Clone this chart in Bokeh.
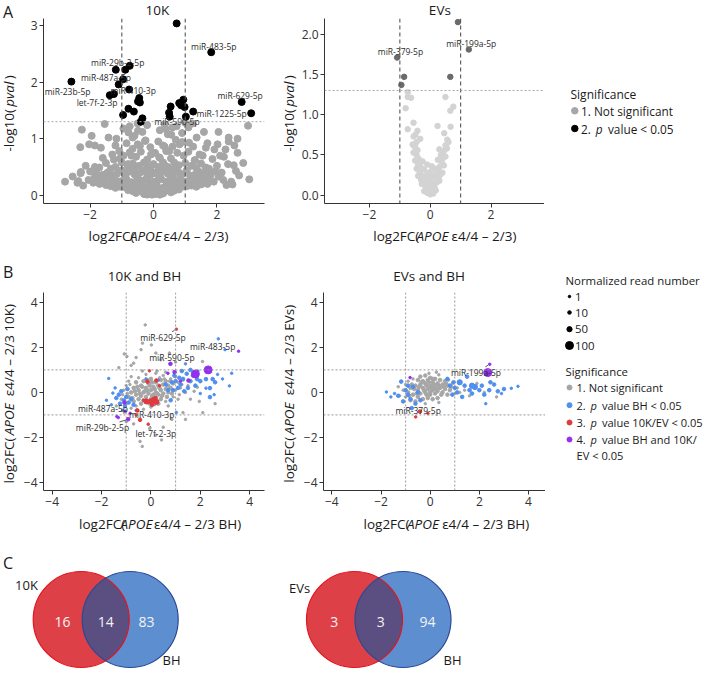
import numpy as np
from bokeh.plotting import figure
from bokeh.models import Range1d, ColumnDataSource, FixedTicker, Span
from bokeh.layouts import column, row
from bokeh.embed import file_html
from bokeh.resources import INLINE
from bokeh.core.properties import value

FONT = "Open Sans"

# ======================= DATA =======================
# ---- Panel A, 10K volcano: log2FC (x) and -log10(pval) (y)
tenk_sig_x = [0.73, 1.82, -2.59, -1.19, -0.89, -0.75, -0.96, -1.10, -0.77, -1.38, -1.25, -0.45, -0.49, -0.43, -0.79,
              -0.62, -0.96, -0.35, -0.40, 0.54, 0.49, 0.51, 0.81, 0.87, 0.94, 0.98, 1.02, 1.25, 2.78, 3.08]
tenk_sig_y = [3.04, 2.53, 2.01, 2.22, 2.22, 2.29, 2.05, 1.96, 1.87, 1.77, 1.79, 1.72, 1.66, 1.64, 1.53,
              1.48, 1.42, 1.36, 1.30, 1.57, 1.46, 1.39, 1.63, 1.59, 1.69, 1.56, 1.39, 1.48, 1.65, 1.45]
tenk_ns = [
    (-2.26, 1.16), (-1.54, 1.26), (-2.31, 0.85), (-2.03, 0.90), (-1.66, 0.84), (-1.42, 1.02), (-1.17, 1.00),
    (-2.79, 0.24), (-2.37, 0.25), (-2.22, 0.17), (-2.14, 0.52), (-2.29, 0.41), (-1.86, 0.31), (-1.71, 0.49),
    (-1.61, 0.28), (-1.25, 0.63), (-1.08, 0.78), (-1.06, 0.65), (-0.79, 1.11), (-0.66, 1.02), (-0.49, 1.14),
    (-0.27, 0.96), (-0.66, 0.82), (-0.43, 0.87), (-0.70, 0.70), (-0.81, 0.52),
    (1.23, 1.27), (1.00, 1.28), (1.59, 1.12), (1.36, 1.02), (1.12, 0.93), (1.65, 0.84), (1.92, 0.81),
    (2.02, 0.90), (2.37, 1.02), (2.37, 0.95), (2.27, 0.81), (2.22, 0.68), (2.53, 0.53), (2.83, 0.57),
    (2.98, 1.23), (3.02, 0.28), (2.49, 0.19), (2.30, 0.18), (2.60, 0.43), (1.86, 0.64), (1.45, 0.72),
    (1.30, 0.62), (1.65, 0.49), (2.00, 0.52), (2.05, 0.33),
    (0.39, 1.17), (0.56, 1.07), (0.73, 1.22), (0.35, 0.86), (0.82, 0.90), (0.50, 0.78), (0.18, 0.67),
    (-0.08, 0.72), (-0.13, 0.49),
    (-0.05, 0.01), (0.05, 0.02), (-0.15, 0.03), (0.15, 0.04), (-0.25, 0.05), (0.25, 0.05), (0.00, 0.06),
    (-0.35, 0.07), (0.35, 0.07), (-0.45, 0.08), (0.45, 0.09), (0.10, 0.09), (-0.10, 0.08),
    (-0.55, 0.04), (0.55, 0.05), (-0.65, 0.07), (0.65, 0.08), (-0.30, 0.02), (0.30, 0.03), (-0.80, 0.09),
    (0.80, 0.10), (0.20, 0.01), (-0.20, 0.01),
    (-0.60, 0.10), (0.60, 0.11), (-0.75, 0.12), (0.75, 0.13), (-0.90, 0.14), (0.90, 0.15), (-1.05, 0.15),
    (1.05, 0.16), (-1.20, 0.13), (1.20, 0.17), (-1.35, 0.16), (1.35, 0.15), (-0.30, 0.15), (0.30, 0.13),
    (-0.50, 0.17), (0.50, 0.18), (0.00, 0.15), (-1.50, 0.18), (1.50, 0.19), (-1.70, 0.20), (1.70, 0.20),
    (-0.20, 0.12), (0.20, 0.11), (-1.10, 0.19), (1.10, 0.20), (-0.95, 0.18), (0.95, 0.19), (-0.40, 0.11),
    (0.40, 0.12), (-0.65, 0.15), (0.65, 0.16), (-0.10, 0.17), (0.10, 0.18), (1.30, 0.20), (-1.30, 0.21),
    (-1.90, 0.22), (1.90, 0.24), (-0.10, 0.22), (0.10, 0.25), (-0.40, 0.26), (0.40, 0.24), (-0.70, 0.23),
    (0.70, 0.27), (-1.00, 0.25), (1.00, 0.24), (-1.30, 0.27), (1.30, 0.28), (-1.55, 0.29), (1.60, 0.27),
    (2.20, 0.27), (-2.05, 0.27), (0.85, 0.20), (-0.85, 0.21), (-2.40, 0.22), (2.45, 0.24),
    (-0.25, 0.27), (0.25, 0.28), (-0.55, 0.24), (0.55, 0.25), (-0.85, 0.28), (0.85, 0.29), (-1.15, 0.25),
    (1.15, 0.26), (1.45, 0.30), (-1.45, 0.30), (1.75, 0.29), (-1.75, 0.28), (0.00, 0.24),
    (-0.20, 0.32), (0.20, 0.34), (-0.55, 0.35), (0.55, 0.33), (-0.90, 0.36), (0.90, 0.37), (-1.15, 0.38),
    (1.15, 0.35), (-1.45, 0.40), (1.45, 0.41), (-1.80, 0.38), (1.80, 0.36), (0.00, 0.40), (-0.35, 0.42),
    (0.35, 0.44), (-0.70, 0.43), (0.70, 0.42), (1.05, 0.44), (-1.00, 0.44), (2.15, 0.40), (-2.00, 0.42),
    (2.70, 0.35), (-2.55, 0.33), (-0.10, 0.36), (0.10, 0.38), (-0.45, 0.39), (0.45, 0.38), (-0.80, 0.41),
    (0.80, 0.40), (-1.30, 0.35), (1.30, 0.36), (-1.60, 0.36), (1.60, 0.38), (0.25, 0.42), (-0.25, 0.44),
    (0.60, 0.36), (-0.60, 0.37), (1.95, 0.42), (-2.30, 0.39),
    (-0.10, 0.48), (0.15, 0.50), (-0.45, 0.52), (0.45, 0.50), (-0.80, 0.55), (0.80, 0.53), (-1.20, 0.50),
    (1.20, 0.52), (-1.50, 0.57), (1.50, 0.56), (0.30, 0.58), (-0.30, 0.58), (1.75, 0.47), (-1.85, 0.50),
    (2.35, 0.55), (0.60, 0.46), (-0.60, 0.47), (0.00, 0.55), (-0.20, 0.52), (0.35, 0.53), (-0.65, 0.56),
    (0.65, 0.58), (1.00, 0.57), (-1.00, 0.58), (1.35, 0.48), (-1.35, 0.47),
    (-0.20, 0.63), (0.20, 0.66), (-0.55, 0.68), (0.55, 0.65), (-0.95, 0.70), (0.95, 0.70), (1.30, 0.62),
    (-1.30, 0.72), (0.05, 0.75), (-0.40, 0.77), (0.40, 0.78), (0.75, 0.75), (-0.75, 0.76), (1.10, 0.77),
    (1.55, 0.70), (2.10, 0.70), (-1.60, 0.66), (2.65, 0.75),
    (-0.10, 0.85), (0.30, 0.88), (-0.50, 0.90), (0.60, 0.86), (-0.85, 0.92), (0.90, 0.94), (1.25, 0.86),
    (-1.20, 0.88), (0.15, 0.95), (-0.25, 0.97), (1.70, 0.92), (-1.85, 0.88), (2.55, 0.88), (0.70, 0.98),
    (-0.60, 1.05), (0.45, 1.08), (-0.35, 1.12), (0.20, 1.15), (0.90, 1.10), (-0.95, 1.18), (0.60, 1.20),
    (-0.20, 1.24), (1.10, 1.20), (-0.75, 1.22), (0.35, 1.25), (-0.50, 1.27), (2.05, 1.12), (-1.95, 1.05),
    (2.65, 1.00),
]
tenk_lab = ["miR-483-5p", "miR-29b-2-5p", "miR-487a-5p", "miR-23b-5p", "miR-410-3p",
            "let-7f-2-3p", "miR-629-5p", "miR-1225-5p", "miR-590-5p"]
tenk_lab_x = [1.90, -1.13, -1.50, -2.71, -0.64, -1.78, 2.73, 2.15, 0.74]
tenk_lab_y = [2.64, 2.34, 2.08, 1.84, 1.85, 1.64, 1.77, 1.45, 1.30]

# ---- Panel A, EVs volcano
ev_sig_x = [0.91, 1.27, -1.09, -0.86, -0.95, 0.66]
ev_sig_y = [2.15, 1.81, 1.71, 1.47, 1.37, 1.47]
ev_ns = [
    (-0.74, 1.28), (-0.74, 1.22), (-0.63, 1.21), (-0.81, 1.08), (0.50, 1.22), (0.76, 1.10), (0.66, 1.05),
    (0.67, 0.85), (0.24, 0.86), (-0.55, 0.90), (-0.74, 0.82), (-0.42, 0.80), (-0.49, 0.75), (-0.33, 0.70),
    (-0.55, 0.73), (-0.53, 0.61), (0.46, 0.77), (0.56, 0.69), (0.52, 0.61),
    (-0.20, 0.05), (-0.10, 0.03), (0.00, 0.01), (0.10, 0.02), (0.18, 0.06), (-0.05, 0.08), (0.06, 0.09),
    (-0.15, 0.10), (0.14, 0.10),
    (-0.28, 0.14), (-0.18, 0.15), (-0.08, 0.13), (0.02, 0.15), (0.12, 0.14), (0.22, 0.16), (0.30, 0.18),
    (-0.30, 0.19), (0.00, 0.20), (-0.12, 0.19), (0.20, 0.20),
    (-0.40, 0.24), (-0.30, 0.25), (-0.20, 0.22), (-0.10, 0.26), (0.10, 0.24), (0.20, 0.27), (0.32, 0.25),
    (0.40, 0.28), (-0.35, 0.29), (0.00, 0.29), (0.28, 0.30),
    (-0.45, 0.33), (-0.32, 0.35), (-0.20, 0.32), (0.15, 0.33), (0.30, 0.35), (0.45, 0.37), (-0.40, 0.38),
    (0.38, 0.40), (0.05, 0.36), (-0.10, 0.38),
    (-0.50, 0.43), (-0.38, 0.45), (-0.25, 0.42), (0.25, 0.44), (0.42, 0.46), (0.50, 0.48), (-0.45, 0.50),
    (0.35, 0.50),
    (-0.55, 0.53), (-0.42, 0.56), (0.45, 0.55), (0.55, 0.58), (-0.50, 0.60), (0.30, 0.57),
    (-0.58, 0.63), (-0.45, 0.66), (0.50, 0.62), (0.60, 0.66),
]
ev_lab = ["miR-379-5p", "miR-199a-5p"]
ev_lab_x = [-0.98, 1.35]
ev_lab_y = [1.78, 1.89]

# ---- Panel B: (log2FC BH, log2FC 10K or EVs, normalized read number)
tenkbh_gray = [
    (-0.23, 3.0, 1), (-0.34, 2.19, 1), (0.02, 2.11, 1), (-1.08, 1.71, 1), (-0.97, 1.6, 1), (-0.4, 1.9, 1),
    (-0.6, 1.55, 1), (-0.7, 1.3, 1), (0.2, 1.75, 1), (0.4, 1.45, 1), (1.0, 1.35, 1), (2.09, 1.37, 1),
    (0.75, 1.75, 1), (-1.3, 1.1, 1), (-0.8, 1.2, 1), (-0.44, -2.18, 1), (0.43, -2.11, 1), (-0.35, -2.4, 1),
    (-0.05, -1.6, 1), (0.5, -1.55, 1), (-0.7, -1.4, 1), (0.2, -1.9, 1), (1.3, -0.9, 1), (1.4, -1.2, 1),
    (1.96, -0.4, 1), (2.1, -0.9, 1), (-1.4, -0.6, 1), (-1.0, -1.3, 1), (0.85, -1.2, 1), (1.88, 0.23, 1),
    (1.75, 0.05, 1), (1.6, -0.3, 1), (2.6, -0.5, 1),
    (-1.2, -0.3, 1), (-1.1, 0.1, 1), (-1.0, -0.5, 1), (-1.0, 0.3, 1), (-0.9, -0.2, 10), (-0.9, 0.5, 1),
    (-0.8, -0.7, 1), (-0.8, 0.0, 10), (-0.8, 0.7, 1), (-0.7, -0.4, 10), (-0.7, 0.2, 10), (-0.6, -0.1, 10),
    (-0.6, 0.45, 10), (-0.6, -0.6, 1), (-0.5, 0.1, 10), (-0.5, -0.3, 10), (-0.5, 0.65, 1), (-0.4, -0.5, 10),
    (-0.4, 0.3, 10), (-0.4, -0.15, 10), (-0.3, 0.0, 10), (-0.3, 0.5, 10), (-0.3, -0.35, 10), (-0.3, -0.75, 1),
    (-0.2, 0.2, 10), (-0.2, -0.2, 10), (-0.2, 0.8, 1), (-0.1, -0.05, 10), (-0.1, 0.4, 10), (-0.1, -0.45, 10),
    (0.0, 0.1, 10), (0.0, -0.3, 10), (0.0, 0.6, 10), (0.0, -0.65, 1), (0.1, -0.1, 10), (0.1, 0.25, 10),
    (0.1, -0.4, 10), (0.2, 0.0, 10), (0.2, 0.45, 10), (0.2, -0.25, 10), (0.2, 0.85, 1), (0.3, -0.1, 10),
    (0.3, 0.3, 10), (0.3, -0.5, 10), (0.4, 0.1, 10), (0.4, 0.55, 10), (0.4, -0.3, 10), (0.5, -0.05, 10),
    (0.5, 0.35, 10), (0.5, 0.75, 1), (0.6, 0.15, 10), (0.6, -0.4, 1), (0.6, 0.5, 10), (0.7, 0.0, 10),
    (0.7, 0.3, 10), (0.7, -0.6, 1), (0.8, 0.2, 10), (0.8, 0.6, 1), (0.9, -0.2, 1), (0.9, 0.4, 10),
    (1.0, 0.1, 1), (1.0, 0.7, 1), (1.1, -0.3, 1), (1.1, 0.45, 1), (1.2, 0.2, 1), (1.3, 0.55, 1),
    (1.4, 0.0, 1), (1.5, 0.3, 1), (-0.15, 0.1, 10), (-0.05, 0.3, 10), (0.05, -0.15, 10), (0.15, 0.15, 10),
    (0.25, -0.05, 10), (0.35, 0.2, 10), (0.45, -0.15, 10), (-0.25, 0.05, 10), (-0.35, 0.25, 10),
    (-0.45, -0.05, 10), (-0.55, 0.25, 10), (-0.65, 0.05, 10), (0.05, 0.45, 10), (0.15, -0.55, 1),
    (0.35, 0.65, 1), (-0.15, 0.55, 10), (-0.05, -0.5, 10), (0.55, 0.6, 1), (0.65, -0.2, 10), (0.75, 0.5, 1),
    (0.85, -0.05, 10), (-0.75, -0.25, 10), (-0.85, 0.35, 1), (-0.95, -0.05, 1), (1.15, -0.1, 1),
    (1.25, 0.35, 1), (-1.15, -0.1, 1), (0.25, 0.95, 1), (-0.35, 0.95, 1), (0.6, 0.9, 1),
]
tenkbh_blue = [
    (2.73, 2.38, 1), (3.27, 0.85, 1), (3.18, 0.29, 1), (1.4, 1.27, 1), (1.45, 0.83, 10), (1.87, 0.59, 10),
    (2.23, 0.59, 10), (2.5, 0.59, 10), (2.6, 0.45, 10), (2.39, 0.19, 10), (2.39, -0.21, 10), (2.56, -0.1, 1),
    (2.23, 0.19, 1), (2.0, 0.5, 10), (1.7, 0.75, 10), (1.6, 0.5, 10), (1.3, 0.6, 10), (1.2, 0.35, 10),
    (1.1, 0.2, 10), (1.0, 0.5, 10), (0.9, 0.1, 10), (1.5, 0.2, 10), (1.35, 0.05, 10), (1.8, 0.3, 10),
    (2.9, 0.6, 1), (2.7, 0.8, 1), (2.2, 1.0, 1), (3.0, 1.9, 1), (2.0, -0.05, 1), (1.03, -0.89, 1),
    (1.25, 0.95, 10), (0.95, 0.75, 10), (1.15, 0.65, 10), (1.6, 1.0, 10), (1.9, 0.95, 1),
    (-1.71, 0.62, 1), (-1.54, -0.03, 1), (-1.3, -0.1, 10), (-1.2, 0.05, 10), (-1.1, -0.35, 10),
    (-1.0, -0.2, 10), (-0.9, -0.45, 10), (-0.8, -0.3, 10), (-1.4, -0.25, 10), (-1.25, -0.5, 10),
    (-1.6, -0.55, 1), (-1.05, -0.6, 10), (-0.7, -0.55, 10), (-1.45, 0.2, 1), (-1.15, -0.8, 1),
    (-0.95, 0.15, 10), (-1.8, -0.35, 1), (-0.6, -0.8, 1),
    (0.3, 0.55, 1), (0.6, 0.35, 10), (0.8, -0.35, 10), (-0.2, 0.6, 1), (0.7, 0.1, 10), (0.85, 0.45, 10),
]
tenkbh_red = [
    (1.03, 2.81, 1), (-0.06, 0.96, 1), (-0.14, 0.48, 10), (0.22, 0.53, 10), (-0.18, -0.40, 50),
    (0.0, -0.40, 50), (0.12, -0.33, 50), (0.22, -0.42, 50), (0.18, -0.25, 10), (-0.55, -0.80, 10),
    (-0.44, -1.22, 10), (-0.11, -1.41, 1), (0.35, 0.3, 1), (-0.3, -0.35, 1), (0.05, -0.55, 10), (-0.6, -1.0, 1),
]
tenkbh_purple = [
    (1.8, 0.82, 100), (2.32, 1.0, 100), (3.55, 1.83, 1), (0.79, 1.27, 10), (0.69, 0.85, 1), (0.96, 0.9, 10),
    (1.52, 0.53, 10), (-1.07, -0.45, 10), (-1.32, -1.12, 1), (-0.92, -1.19, 10), (-1.38, -1.07, 1),
    (-1.03, -0.84, 1), (-0.84, -0.93, 1), (1.2, 0.5, 1),
]
tenkbh_lab = ["miR-629-5p", "miR-483-5p", "miR-590-5p", "miR-487a-5p", "miR-410-3p", "miR-29b-2-5p", "let-7f-2-3p"]
tenkbh_lab_x = [0.49, 2.50, 0.85, -1.94, 0.03, -1.96, 0.20]
tenkbh_lab_y = [2.45, 2.04, 1.55, -0.73, -0.98, -1.56, -1.81]
tenkbh_lab_pt_x = [1.03, 3.55, 0.79, -1.07, -0.84, -0.92, -0.11]   # the labelled miRNAs
tenkbh_lab_pt_y = [2.81, 1.83, 1.27, -0.45, -0.93, -1.19, -1.41]

evbh_gray = [
    (-1.1, 0.1, 1), (-1.0, -0.2, 1), (-1.0, 0.35, 1), (-0.9, 0.0, 10), (-0.9, 0.5, 1), (-0.8, -0.35, 10),
    (-0.8, 0.2, 10), (-0.7, 0.6, 1), (-0.7, -0.1, 10), (-0.6, 0.3, 10), (-0.6, -0.4, 10), (-0.5, 0.1, 10),
    (-0.5, 0.55, 10), (-0.5, -0.2, 10), (-0.4, 0.35, 10), (-0.4, -0.05, 10), (-0.4, 0.7, 10), (-0.3, 0.2, 10),
    (-0.3, -0.3, 10), (-0.3, 0.5, 10), (-0.2, 0.0, 10), (-0.2, 0.4, 10), (-0.2, 0.75, 10), (-0.1, 0.15, 10),
    (-0.1, -0.25, 10), (-0.1, 0.55, 10), (0.0, 0.3, 10), (0.0, -0.1, 10), (0.0, 0.65, 10), (0.1, 0.1, 10),
    (0.1, 0.45, 10), (0.1, -0.3, 10), (0.2, 0.25, 10), (0.2, -0.05, 10), (0.2, 0.6, 10), (0.3, 0.4, 10),
    (0.3, 0.05, 10), (0.3, -0.25, 10), (0.4, 0.2, 10), (0.4, 0.55, 10), (0.5, 0.0, 10), (0.5, 0.35, 10),
    (0.6, 0.15, 10), (0.6, 0.5, 10), (0.7, -0.1, 10), (0.7, 0.3, 10), (0.8, 0.1, 10), (0.9, 0.4, 1),
    (1.0, -0.05, 1), (1.1, 0.2, 1), (1.2, 0.0, 1), (-0.25, 0.1, 10), (-0.15, 0.3, 10), (-0.05, 0.45, 10),
    (0.05, 0.2, 10), (0.15, 0.35, 10), (0.25, 0.15, 10), (0.35, 0.3, 10), (-0.35, 0.45, 10), (-0.45, 0.25, 10),
    (-0.55, -0.05, 10), (-0.65, 0.15, 10), (0.45, -0.1, 10), (0.55, 0.25, 10), (0.65, 0.4, 10),
    (-0.75, 0.35, 10), (-0.85, -0.15, 10), (0.75, 0.55, 1), (0.85, 0.25, 10), (-0.15, -0.1, 10),
    (0.0, 0.0, 10), (0.1, 0.6, 10), (-0.05, 0.85, 1), (0.25, 0.9, 1), (0.35, 0.78, 1), (-1.25, -0.15, 1),
    (-1.3, 0.25, 1), (1.6, -0.15, 1), (1.9, 0.4, 1), (2.2, 0.0, 1), (2.7, -0.2, 1), (1.4, 0.1, 1),
    (-0.2, -0.5, 1), (0.35, -0.45, 1),
]
evbh_blue = [
    (-1.78, 0.02, 1), (-1.6, -0.2, 1), (3.57, 0.27, 1), (3.3, 0.18, 1), (2.26, -0.5, 1), (1.82, 0.24, 50),
    (1.7, 0.3, 50), (1.2, 0.45, 50), (1.5, 0.7, 10), (2.75, 0.05, 10), (-1.18, 0.48, 10), (2.1, 0.3, 10),
    (2.4, 0.1, 10), (2.0, 0.1, 10), (1.6, 0.1, 10), (1.4, 0.3, 10), (1.0, 0.2, 10), (0.9, -0.1, 10),
    (1.1, 0.0, 10), (0.8, 0.3, 10), (-0.9, -0.1, 10), (-1.0, 0.1, 10), (-0.8, -0.3, 10), (-1.3, -0.15, 10),
    (-0.7, 0.25, 10), (-0.6, -0.5, 10), (-1.1, -0.4, 10), (2.6, 0.35, 10), (2.9, -0.05, 1), (1.3, -0.2, 10),
    (0.7, 0.6, 10), (1.7, -0.05, 10), (-0.5, 0.0, 10), (3.0, 0.15, 10), (2.2, -0.1, 10), (-0.9, 0.3, 10),
    (-0.75, -0.7, 10), (-1.45, -0.05, 1), (0.95, 0.45, 10), (2.45, 0.45, 10), (-0.4, -0.35, 10),
]
evbh_red = [(-0.59, -1.09, 1), (-0.42, -0.85, 10), (-0.09, -0.94, 1)]
evbh_purple = [(2.34, 0.88, 100), (2.42, 1.25, 1), (-0.82, 0.66, 1)]
evbh_lab = ["miR-199a-5p", "miR-379-5p"]
evbh_lab_x = [1.86, -0.49]
evbh_lab_y = [0.89, -0.79]
evbh_lab_pt_x = [2.42, -0.59]
evbh_lab_pt_y = [1.25, -1.09]

# ---- Legends ("|" marks italic parts)
sig_a_labels = ["1. Not significant", "2. |p| value < 0.05"]
read_breaks = [1, 10, 50, 100]
sig_b_labels = ["1. Not significant", "2. |p| value BH < 0.05", "3. |p| value 10K/EV < 0.05",
                "4. |p| value BH and 10K/"]
sig_b_label_cont = "EV < 0.05"

# ---- Panel C: Venn counts (only-first, both, only-BH)
venn_10k = [16, 14, 83]
venn_ev = [3, 3, 94]
venn_names = [("10K", "BH"), ("EVs", "BH")]

# ---- Axis titles ("|" marks italic parts)
xlab_a = "log2FC(|APOE| ε4/4 – 2/3)"
ylab_a = "-log10(|pval|)"
xlab_b = "log2FC(|APOE| ε4/4 – 2/3 BH)"
ylab_b1 = "log2FC(|APOE| ε4/4 – 2/3 10K)"
ylab_b2 = "log2FC(|APOE| ε4/4 – 2/3 EVs)"

# ======================= STYLE =======================
GRAY = "#a6a6a6"
EV_NS = "#d3d3d3"
EV_SIG = "#6b6b6b"
BLUE = "#4f8ff0"
RED = "#e03a3e"
PURPLE = "#952ff0"
TXT = "#1a1a1a"
AX = "#333333"

CW = {' ': 0.26, '(': 0.296, ')': 0.296, '-': 0.322, '/': 0.372, '.': 0.266, '<': 0.572, '–': 0.5, 'ε': 0.5,
      'A': 0.633, 'B': 0.648, 'C': 0.631, 'E': 0.547, 'F': 0.513, 'H': 0.722, 'K': 0.617, 'N': 0.74,
      'O': 0.781, 'P': 0.602, 'R': 0.624, 'S': 0.55, 'V': 0.606, 'a': 0.556, 'b': 0.613, 'c': 0.476,
      'd': 0.613, 'e': 0.561, 'f': 0.339, 'g': 0.548, 'i': 0.253, 'l': 0.253, 'm': 0.93, 'n': 0.614,
      'o': 0.604, 'p': 0.613, 'r': 0.408, 's': 0.477, 't': 0.353, 'u': 0.614, 'v': 0.5, 'z': 0.478}
for _d in "0123456789":
    CW[_d] = 0.572


def tw(s, size, italic=False):
    return sum(CW.get(c, 0.56) for c in s) * size * (0.96 if italic else 1.0)


def read_size(n):
    return np.interp(n, [1, 10, 50, 100], [2.5, 3.6, 5.2, 8.0])


def minus(v, fmt="{:g}"):
    return fmt.format(v).replace("-", "\u2212")


def split_rich(s):
    parts = s.split("|")
    return [(t, i % 2 == 1) for i, t in enumerate(parts) if t != ""]


def make_fig(w, h, xr, yr, bl, br, bt, bb, xt, yt, yfmt="{:g}"):
    p = figure(width=w, height=h, x_range=Range1d(*xr), y_range=Range1d(*yr),
               output_backend="svg", toolbar_location=None, title=None,
               min_border_left=bl, min_border_right=br, min_border_top=bt, min_border_bottom=bb)
    p.outline_line_color = None
    p.grid.visible = False
    p.xaxis.ticker = FixedTicker(ticks=xt)
    p.yaxis.ticker = FixedTicker(ticks=yt)
    p.xaxis.major_label_overrides = {t: minus(t) for t in xt}
    p.yaxis.major_label_overrides = {t: minus(t, yfmt) for t in yt}
    for ax in (p.xaxis[0], p.yaxis[0]):
        ax.axis_line_color = AX
        ax.axis_line_width = 1
        ax.major_tick_line_color = AX
        ax.major_tick_out = 4
        ax.major_tick_in = 0
        ax.minor_tick_line_color = None
        ax.major_label_text_font = FONT
        ax.major_label_text_font_size = "12px"
        ax.major_label_text_color = AX
        ax.major_label_standoff = 2
    return p


def strip(x0, x1, y0, y1):
    """A plain figure whose data units are the reference picture's pixels."""
    f = figure(width=int(round(x1 - x0)), height=int(round(y1 - y0)),
               x_range=Range1d(x0, x1), y_range=Range1d(y1, y0),
               x_axis_type=None, y_axis_type=None, output_backend="svg",
               toolbar_location=None, title=None, min_border=0)
    f.outline_line_color = None
    return f


def rich(p, x, y, pieces, size, center=True, vertical=False, color=TXT):
    ws = []
    for k, (t, it) in enumerate(pieces):
        w = tw(t, size, it)
        if it and k + 1 < len(pieces):
            w += 0.18 * size
        ws.append(w)
    pre = [0.16 * size if (it and k > 0) else 0.0 for k, (t, it) in enumerate(pieces)]
    total = sum(ws) + sum(pre)
    off = -total / 2.0 if center else 0.0
    for (t, it), w, pr in zip(pieces, ws, pre):
        off += pr
        s = t.lstrip(" ")
        pos = off + tw(t[:len(t) - len(s)], size)
        kw = dict(text=[s], text_font=value(FONT), text_font_size=value(f"{size}px"),
                  text_font_style="italic" if it else "normal", text_align="left",
                  text_baseline="middle", text_color=color)
        if vertical:
            p.text(x=[x], y=[y - pos], angle=np.pi / 2, **kw)
        else:
            p.text(x=[x + pos], y=[y], **kw)
        off += w


def pts_source(pts):
    return ColumnDataSource(dict(x=[a for a, b, c in pts], y=[b for a, b, c in pts],
                                 s=[float(read_size(c)) for a, b, c in pts]))


def add_thresholds_a(p):
    for loc in (-1, 1):
        p.add_layout(Span(location=loc, dimension="height", line_color="#555555", line_dash="4 3",
                          line_width=1.1))
    p.add_layout(Span(location=-np.log10(0.05), dimension="width", line_color="#aaaaaa", line_dash="2 2",
                      line_width=1))


def point_labels(p, xs, ys, labs):
    p.text(x=xs, y=ys, text=labs, text_font=value(FONT), text_font_size=value("8.5px"),
           text_align="center", text_baseline="middle", text_color="#2a2a2a")


def leaders(p, lx, ly, px_, py_, labs, ux, uy):
    """Short ggrepel-like lines from a label's box edge to its point (ux, uy: pixels per data unit)."""
    x0s, y0s, x1s, y1s = [], [], [], []
    for a, b, c, d, s in zip(lx, ly, px_, py_, labs):
        dx, dy = (c - a) * ux, (d - b) * uy
        hw, hh = tw(s, 8.5) / 2 + 1, 5.5
        if abs(dx) <= hw and abs(dy) <= hh:
            continue
        t = min(hw / abs(dx) if dx else 1e9, hh / abs(dy) if dy else 1e9)
        dist = np.hypot(dx, dy)
        if dist * (1 - t) < 4:
            continue
        t_end = 1 - 2.0 / dist
        x0s.append(a + t * (c - a))
        y0s.append(b + t * (d - b))
        x1s.append(a + t_end * (c - a))
        y1s.append(b + t_end * (d - b))
    if x0s:
        p.segment(x0=x0s, y0=y0s, x1=x1s, y1=y1s, line_color="#333333", line_width=0.8)


def letter(p, x, y, s):
    p.text(x=[x], y=[y], text=[s], text_font=value(FONT), text_font_size=value("16px"),
           text_align="left", text_baseline="middle", text_color=TXT)


def title_text(p, x, y, s):
    p.text(x=[x], y=[y], text=[s], text_font=value(FONT), text_font_size=value("13.5px"),
           text_align="center", text_baseline="middle", text_color=TXT)


# ======================= PANEL A (reference y 8..255) =======================
ylabA1 = strip(8, 28, 8, 255)
letter(ylabA1, 10.5, 19, "A")
rich(ylabA1, 16, 121, split_rich(ylab_a), 13.5, vertical=True)

titA1 = strip(28, 286, 8, 26)
title_text(titA1, 161, 17.5, "10K")
pA1 = make_fig(258, 208, (-3.47, 3.50), (-0.147, 3.127), 23, 14, 0, 23, [-2, 0, 2], [0, 1, 2, 3])
pA1.scatter([q[0] for q in tenk_ns], [q[1] for q in tenk_ns], size=7, color=GRAY)
pA1.scatter(tenk_sig_x, tenk_sig_y, size=7, color="#000000")
add_thresholds_a(pA1)
point_labels(pA1, tenk_lab_x, tenk_lab_y, tenk_lab)
xlabA1 = strip(28, 286, 234, 255)
rich(xlabA1, 157, 243, split_rich(xlab_a), 13.5)

ylabA2 = strip(286, 306, 8, 255)
rich(ylabA2, 296, 121, split_rich(ylab_a), 13.5, vertical=True)

titA2 = strip(306, 552, 8, 26)
title_text(titA2, 435, 17.5, "EVs")
pA2 = make_fig(246, 208, (-3.48, 3.76), (-0.103, 2.195), 25, 0, 0, 23, [-2, 0, 2], [0, 0.5, 1, 1.5, 2],
               yfmt="{:.1f}")
pA2.scatter([q[0] for q in ev_ns], [q[1] for q in ev_ns], size=5.5, color=EV_NS)
pA2.scatter(ev_sig_x, ev_sig_y, size=5.5, color=EV_SIG)
add_thresholds_a(pA2)
point_labels(pA2, ev_lab_x, ev_lab_y, ev_lab)
xlabA2 = strip(306, 552, 234, 255)
rich(xlabA2, 437, 243, split_rich(xlab_a), 13.5)

legA = strip(552, 712, 8, 255)
rich(legA, 578, 102, [("Significance", False)], 12, center=False)
legA.scatter([582.3, 582.3], [118.3, 136], size=6.5, color=[GRAY, "#000000"])
for yy, s in zip([118.3, 136], sig_a_labels):
    rich(legA, 588.5, yy, split_rich(s), 11.8, center=False)

rowA = row(ylabA1, column(titA1, pA1, xlabA1), ylabA2, column(titA2, pA2, xlabA2), legA)

# ======================= PANEL B (reference y 255..560) =======================
UX_B, UY_B = 24.8, 22.5


def panel_b(p, gray, blue, red, purple, labs, lx, ly, ptx, pty):
    for pts, col in ((gray, GRAY), (blue, BLUE), (red, RED), (purple, PURPLE)):
        p.scatter("x", "y", size="s", color=col, source=pts_source(pts))
    for loc, dim in ((-1, "height"), (1, "height"), (-1, "width"), (1, "width")):
        p.add_layout(Span(location=loc, dimension=dim, line_color="#8c8c8c", line_dash="2 2", line_width=0.9))
    leaders(p, lx, ly, ptx, pty, labs, UX_B, UY_B)
    point_labels(p, lx, ly, labs)


ylabB1 = strip(8, 28, 255, 560)
letter(ylabB1, 10.5, 279, "B")
rich(ylabB1, 16, 401, split_rich(ylab_b1), 13.5, vertical=True)

titB1 = strip(28, 286, 255, 300)
title_text(titB1, 146, 283, "10K and BH")
pB1 = make_fig(258, 222, (-4.35, 4.60), (-4.36, 4.44), 23, 14, 0, 24, [-4, -2, 0, 2, 4], [-4, -2, 0, 2, 4])
panel_b(pB1, tenkbh_gray, tenkbh_blue, tenkbh_red, tenkbh_purple, tenkbh_lab, tenkbh_lab_x, tenkbh_lab_y,
        tenkbh_lab_pt_x, tenkbh_lab_pt_y)
xlabB1 = strip(28, 286, 522, 560)
rich(xlabB1, 157, 531, split_rich(xlab_b), 13.5)

ylabB2 = strip(286, 306, 255, 560)
rich(ylabB2, 296, 401, split_rich(ylab_b2), 13.5, vertical=True)

titB2 = strip(306, 553, 255, 300)
title_text(titB2, 423.5, 283, "EVs and BH")
pB2 = make_fig(247, 222, (-4.34, 4.69), (-4.36, 4.44), 25, 0, 0, 24, [-4, -2, 0, 2, 4], [-4, -2, 0, 2, 4])
panel_b(pB2, evbh_gray, evbh_blue, evbh_red, evbh_purple, evbh_lab, evbh_lab_x, evbh_lab_y,
        evbh_lab_pt_x, evbh_lab_pt_y)
xlabB2 = strip(306, 553, 522, 560)
rich(xlabB2, 438, 531, split_rich(xlab_b), 13.5)

legB = strip(553, 712, 255, 560)
rich(legB, 573, 288, [("Normalized read number", False)], 11.4, center=False)
rb_y = [304, 320, 336.7, 353]
legB.scatter([577] * 4, rb_y, size=[float(read_size(n)) for n in read_breaks], color="#000000")
for yy, n in zip(rb_y, read_breaks):
    rich(legB, 582.5, yy, [(str(n), False)], 11.4, center=False)
rich(legB, 573, 379, [("Significance", False)], 11.4, center=False)
sb_y = [395, 412.7, 430, 447]
legB.scatter([577] * 4, sb_y, size=5, color=[GRAY, BLUE, RED, PURPLE])
for yy, s in zip(sb_y, sig_b_labels):
    rich(legB, 584, yy, split_rich(s), 11.1, center=False)
rich(legB, 584, 462.5, [(sig_b_label_cont, False)], 11.1, center=False)

rowB = row(ylabB1, column(titB1, pB1, xlabB1), ylabB2, column(titB2, pB2, xlabB2), legB)

# ======================= PANEL C (reference y 560..677) =======================
venn = strip(8, 712, 560, 677)
VENN_LAYOUT = [
    dict(c1=88.7, c2=137.7, cy=627, r=48.0, nx=[70, 113.3, 154], n1=(34, 592), n2=(179, 667)),
    dict(c1=362.0, c2=410.5, cy=627, r=48.0, nx=[341.7, 388.3, 435], n1=(307, 595), n2=(460, 667)),
]
for lay, counts, names in zip(VENN_LAYOUT, [venn_10k, venn_ev], venn_names):
    c1, c2, cy, r = lay["c1"], lay["c2"], lay["cy"], lay["r"]
    venn.ellipse(x=[c1], y=[cy], width=2 * r, height=2 * r, fill_color="#dd4046", line_color=None)
    venn.ellipse(x=[c2], y=[cy], width=2 * r, height=2 * r, fill_color="#5d8fd0", line_color=None)
    a = np.arccos((c2 - c1) / (2 * r))
    t1 = np.linspace(-a, a, 60)
    t2 = np.linspace(np.pi - a, np.pi + a, 60)
    lx = np.concatenate([c1 + r * np.cos(t1), c2 + r * np.cos(t2)])
    ly = np.concatenate([cy + r * np.sin(t1), cy + r * np.sin(t2)])
    venn.patch(lx, ly, fill_color="#5a4f80", line_color=None)
    venn.ellipse(x=[c1], y=[cy], width=2 * r, height=2 * r, fill_color=None, line_color="#e3141e", line_width=1.2)
    venn.ellipse(x=[c2], y=[cy], width=2 * r, height=2 * r, fill_color=None, line_color="#2a4896", line_width=1.2)
    venn.text(x=lay["nx"], y=[629.5] * 3, text=[str(c) for c in counts], text_font=value(FONT),
              text_font_size=value("14px"), text_align="center", text_baseline="middle", text_color="#f3f3f3")
    venn.text(x=[lay["n1"][0], lay["n2"][0]], y=[lay["n1"][1], lay["n2"][1]], text=list(names),
              text_font=value(FONT), text_font_size=value("13px"), text_align="center",
              text_baseline="middle", text_color=TXT)
letter(venn, 10.5, 570, "C")

layout = column(rowA, rowB, venn)
open("out.html", "w").write(file_html(layout, INLINE))
